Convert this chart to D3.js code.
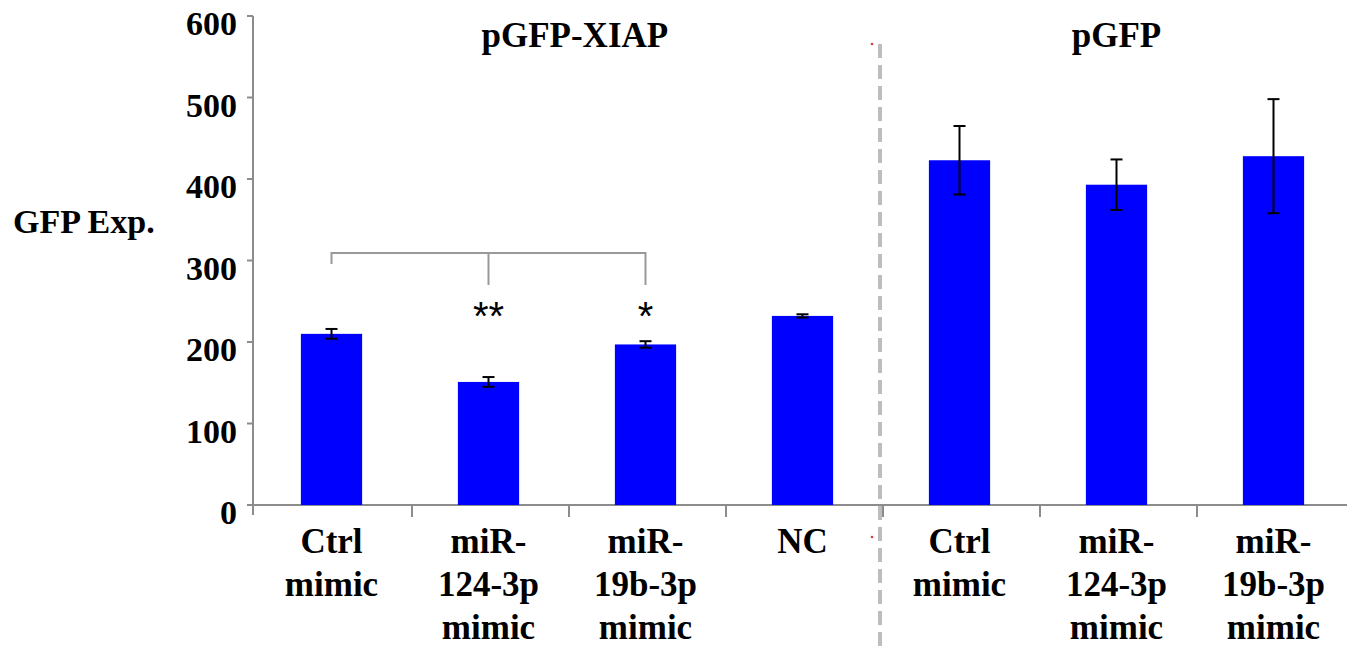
<!DOCTYPE html>
<html lang="en">
<head>
<meta charset="UTF-8">
<title>GFP Exp.</title>
<script src="https://cdn.jsdelivr.net/npm/d3@7"></script>
<style>
  body { margin: 0; background: #fff; }
  text { font-family: "Liberation Serif", "Times New Roman", serif; font-weight: bold; fill: #000; }
</style>
</head>
<body>
<svg width="1347" height="647"></svg>
<script>
// data
var categories = ["Ctrl mimic", "miR-124-3p mimic", "miR-19b-3p mimic", "NC", "Ctrl mimic ", "miR-124-3p mimic ", "miR-19b-3p mimic "];
var labelLines = [["Ctrl", "mimic"], ["miR-", "124-3p", "mimic"], ["miR-", "19b-3p", "mimic"], ["NC"],
                  ["Ctrl", "mimic"], ["miR-", "124-3p", "mimic"], ["miR-", "19b-3p", "mimic"]];
var values = [210, 151, 197, 232, 423, 393, 428];
var errors = [6, 6, 4, 2, 42, 31, 70];
var yTicks = [0, 100, 200, 300, 400, 500, 600];
var groups = [{ name: "pGFP-XIAP", pos: 1.55 }, { name: "pGFP", pos: 5 }];
var stars = [{ cat: 1, text: "**" }, { cat: 2, text: "*" }];

var svg = d3.select("svg");

var x = d3.scaleBand().domain(categories).range([253, 1352]).padding(0);
var y = d3.scaleLinear().domain([0, 600]).range([505, 16]);
var bw = x.bandwidth() * 0.39;
var cx = function(i) { return x(categories[i]) + x.bandwidth() / 2; };

// divider between the two groups
var divX = x(categories[4]) - 1;
svg.append("line")
    .attr("x1", divX).attr("x2", divX)
    .attr("y1", 44).attr("y2", 647)
    .style("stroke", "#bdbdbd").style("stroke-width", 4)
    .style("stroke-dasharray", "14,7");
svg.append("circle").attr("cx", divX - 8).attr("cy", 44).attr("r", 1.3).style("fill", "#d04040");
svg.append("circle").attr("cx", divX - 8).attr("cy", 537).attr("r", 1.3).style("fill", "#d04040");

// axes
svg.append("line")
    .attr("x1", 248).attr("x2", 1347).attr("y1", y(0)).attr("y2", y(0))
    .style("stroke", "#8c8c8c").style("stroke-width", 2);
svg.append("line")
    .attr("x1", 253).attr("x2", 253).attr("y1", y(600)).attr("y2", 515)
    .style("stroke", "#8c8c8c").style("stroke-width", 2);

svg.selectAll(".ytick")
    .data(yTicks).enter().append("line")
    .attr("x1", 247).attr("x2", 253)
    .attr("y1", function(d) { return y(d); }).attr("y2", function(d) { return y(d); })
    .style("stroke", "#8c8c8c").style("stroke-width", 2);

svg.selectAll(".ylab")
    .data(yTicks).enter().append("text")
    .attr("x", 237)
    .attr("y", function(d) { return y(d) + 19; })
    .attr("text-anchor", "end")
    .style("font-size", "34px")
    .text(function(d) { return d; });

svg.selectAll(".xtick")
    .data(categories.slice(1)).enter().append("line")
    .attr("x1", function(d) { return x(d) + 2; }).attr("x2", function(d) { return x(d) + 2; })
    .attr("y1", y(0)).attr("y2", 517)
    .style("stroke", "#8c8c8c").style("stroke-width", 2);

svg.append("text")
    .attr("x", 13).attr("y", 233)
    .style("font-size", "34px")
    .text("GFP Exp.");

// bars
svg.selectAll(".bar")
    .data(values).enter().append("rect")
    .attr("x", function(d, i) { return cx(i) - bw / 2; })
    .attr("y", function(d) { return y(d); })
    .attr("width", bw)
    .attr("height", function(d) { return y(0) - y(d); })
    .style("fill", "#0000ff");

// error bars
var eb = svg.append("g").style("stroke", "#000").style("stroke-width", 2);
values.forEach(function(v, i) {
    var c = cx(i);
    eb.append("line").attr("x1", c).attr("x2", c).attr("y1", y(v + errors[i])).attr("y2", y(v - errors[i]));
    eb.append("line").attr("x1", c - 6).attr("x2", c + 6).attr("y1", y(v + errors[i])).attr("y2", y(v + errors[i]));
    eb.append("line").attr("x1", c - 6).attr("x2", c + 6).attr("y1", y(v - errors[i])).attr("y2", y(v - errors[i]));
});

// x labels
labelLines.forEach(function(lines, i) {
    svg.append("text")
        .attr("x", cx(i)).attr("y", 553)
        .attr("text-anchor", "middle")
        .style("font-size", "35px")
        .selectAll("tspan").data(lines).enter().append("tspan")
        .attr("x", cx(i))
        .attr("dy", function(d, j) { return j === 0 ? 0 : 43; })
        .text(function(d) { return d; });
});

// group titles
svg.selectAll(".grp")
    .data(groups).enter().append("text")
    .attr("x", function(d) { return x(categories[0]) + (d.pos + 0.5) * x.bandwidth(); })
    .attr("y", 47)
    .attr("text-anchor", "middle")
    .style("font-size", "35px")
    .text(function(d) { return d.name; });

// significance bracket
var br = svg.append("g").style("stroke", "#999").style("stroke-width", 2).style("fill", "none");
br.append("path")
    .attr("d", "M" + cx(0) + "," + 264 + "V253H" + cx(2) + "V285");
br.append("line").attr("x1", cx(1)).attr("x2", cx(1)).attr("y1", 253).attr("y2", 285);

svg.selectAll(".star")
    .data(stars).enter().append("text")
    .attr("x", function(d) { return cx(d.cat); })
    .attr("y", 330)
    .attr("text-anchor", "middle")
    .style("font-family", "'Liberation Sans', Arial, sans-serif")
    .style("font-weight", "normal")
    .style("font-size", "40px")
    .text(function(d) { return d.text; });
</script>
</body>
</html>
